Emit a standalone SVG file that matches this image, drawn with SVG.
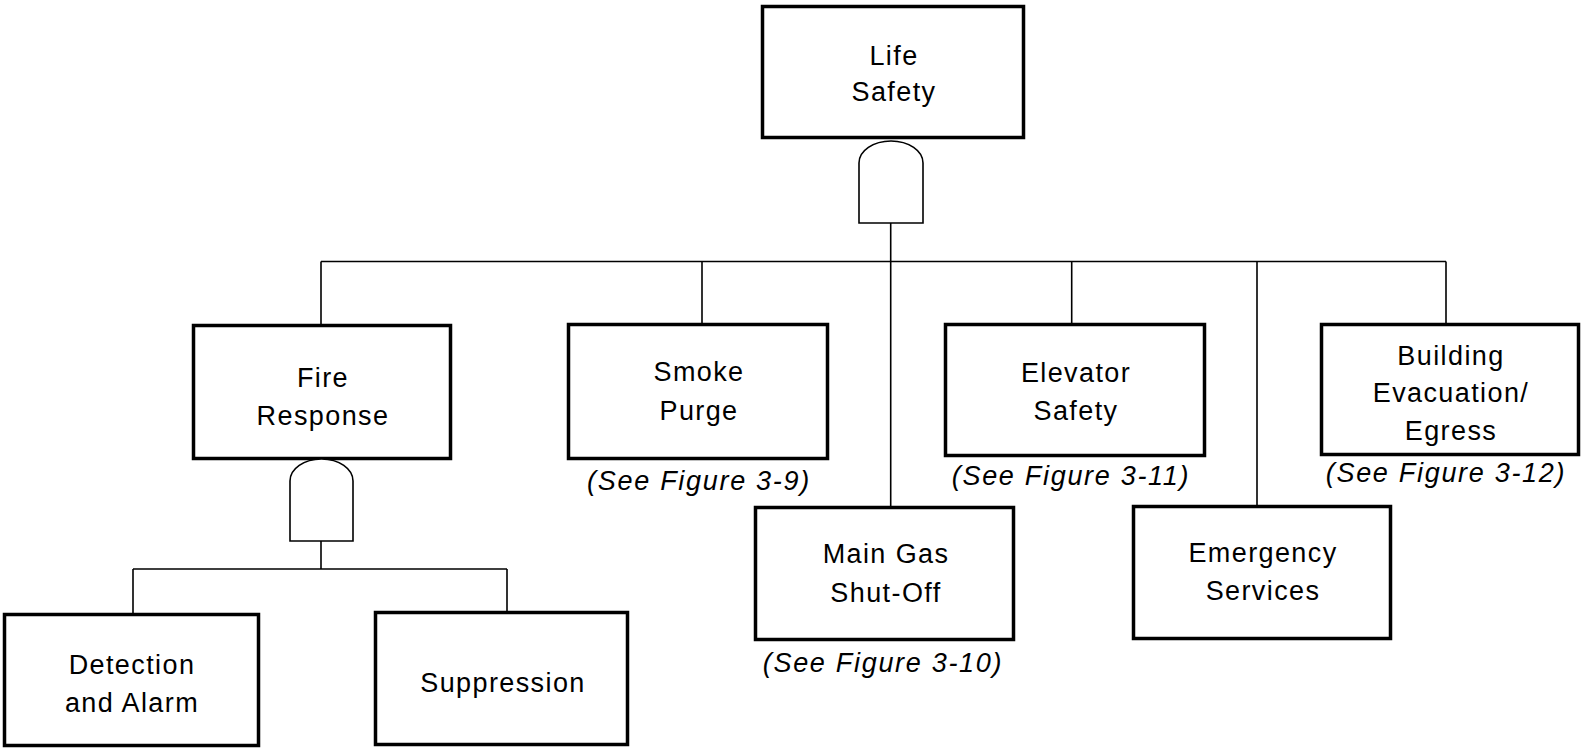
<svg xmlns="http://www.w3.org/2000/svg" width="1581" height="751" viewBox="0 0 1581 751">
<style>
.box{fill:#fff;stroke:#000;stroke-width:3.5}
.gate{fill:#fff;stroke:#000;stroke-width:1.6}
.conn{fill:none;stroke:#000;stroke-width:1.6}
text{font-family:"Liberation Sans",Arial,sans-serif;font-size:27px;letter-spacing:1.4px;text-anchor:middle;fill:#000}
.ref{font-style:italic;letter-spacing:1.7px}
</style>
<rect width="1581" height="751" fill="#fff"/>
<g id="connectors">
<path class="conn" d="M321 261.5H1446M321 261.5V324M702 261.5V323M890.7 223V506M1071.7 261.5V323M1257 261.5V505M1446 261.5V323"/>
<path class="conn" d="M321 541V569M133 569H507M133 569V613M507 569V611"/>
</g>
<g id="life-safety">
<rect class="box" x="762.5" y="6.5" width="261" height="131"/>
<text x="894" y="65">Life</text>
<text x="894" y="101">Safety</text>
<path class="gate" d="M859 223V163A32 22 0 0 1 923 163V223Z"/>
</g>
<g id="fire-response">
<rect class="box" x="193.5" y="325.5" width="257" height="133"/>
<text x="323" y="387">Fire</text>
<text x="323" y="425">Response</text>
<path class="gate" d="M290 541V481A31.5 22 0 0 1 353 481V541Z"/>
</g>
<g id="detection">
<rect class="box" x="4.5" y="614.5" width="254" height="131"/>
<text x="132" y="674">Detection</text>
<text x="132" y="712">and Alarm</text>
</g>
<g id="suppression">
<rect class="box" x="375.5" y="612.5" width="252" height="132"/>
<text x="503" y="692">Suppression</text>
</g>
<g id="smoke-purge">
<rect class="box" x="568.5" y="324.5" width="259" height="134"/>
<text x="699" y="381">Smoke</text>
<text x="699" y="420">Purge</text>
<text class="ref" x="699" y="490">(See Figure 3-9)</text>
</g>
<g id="main-gas">
<rect class="box" x="755.5" y="507.5" width="258" height="132"/>
<text x="886" y="563">Main Gas</text>
<text x="886" y="602">Shut-Off</text>
<text class="ref" x="883" y="672">(See Figure 3-10)</text>
</g>
<g id="elevator-safety">
<rect class="box" x="945.5" y="324.5" width="259" height="131"/>
<text x="1076" y="382">Elevator</text>
<text x="1076" y="420">Safety</text>
<text class="ref" x="1071" y="485">(See Figure 3-11)</text>
</g>
<g id="emergency-services">
<rect class="box" x="1133.5" y="506.5" width="257" height="132"/>
<text x="1263" y="562">Emergency</text>
<text x="1263" y="600">Services</text>
</g>
<g id="building-evacuation">
<rect class="box" x="1321.5" y="324.5" width="257" height="130"/>
<text x="1451" y="365">Building</text>
<text x="1451" y="402">Evacuation/</text>
<text x="1451" y="440">Egress</text>
<text class="ref" x="1446" y="482">(See Figure 3-12)</text>
</g>
</svg>
